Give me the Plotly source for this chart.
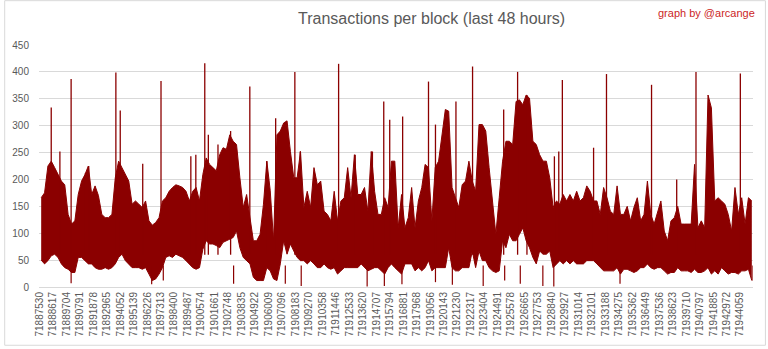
import plotly.graph_objects as go

# ---------------- data ----------------
first_block = 71887530
n_blocks = 57600

tick_text = ["71887530","71888617","71889704","71890791","71891878","71892965",
             "71894052","71895139","71896226","71897313","71898400","71899487",
             "71900574","71901661","71902748","71903835","71904922","71906009",
             "71907096","71908183","71909270","71910358","71911446","71912533",
             "71913620","71914707","71915794","71916881","71917968","71919056",
             "71920143","71921230","71922317","71923404","71924491","71925578",
             "71926665","71927753","71928840","71929927","71931014","71932101",
             "71933188","71934275","71935362","71936449","71937536","71938623",
             "71939710","71940797","71941885","71942972","71944059"]

# per-bin upper / lower envelope of transactions per block
hi = [166,175,225,234,222,209,197,190,135,117,
      123,172,197,209,225,172,188,170,135,129,
      129,135,203,234,222,209,197,154,160,154,
      148,160,123,115,120,129,160,166,178,185,
      190,188,185,178,160,178,185,160,209,240,
      228,222,216,246,259,256,283,271,265,203,
      148,172,129,86,86,98,154,234,180,86,
      283,290,305,309,252,203,203,252,148,178,
      148,222,190,197,141,135,123,178,123,160,
      166,222,166,246,172,172,185,141,252,178,
      135,135,166,148,234,234,110,172,110,129,
      185,110,160,185,228,222,123,222,234,283,
      330,327,185,166,148,190,197,234,197,178,
      302,302,290,222,160,98,166,234,271,271,
      265,345,348,339,357,351,271,265,246,234,
      234,203,148,160,154,172,160,172,160,178,
      160,166,188,178,160,160,135,185,166,141,
      135,188,135,135,150,123,148,166,123,135,
      197,135,117,141,160,104,86,123,129,150,
      117,117,117,117,228,110,123,110,357,333,
      160,166,160,154,135,104,185,135,166,117,
      166,160]

lo = [50,43,49,58,61,55,43,36,33,27,
      27,55,55,49,43,43,36,33,33,36,
      33,36,43,55,61,49,43,36,36,36,
      33,36,24,12,15,24,36,55,58,55,
      61,58,55,49,43,36,33,36,70,86,
      80,80,77,73,83,86,89,92,104,73,
      55,49,43,18,12,12,12,36,30,15,
      12,43,86,61,80,67,55,49,49,43,
      49,43,36,36,43,36,33,36,24,30,
      36,36,36,36,36,43,36,30,33,36,
      36,30,24,36,43,36,30,24,43,43,
      43,30,36,30,36,49,30,36,36,36,
      36,73,36,30,30,36,36,36,67,36,
      67,49,49,36,30,27,30,86,73,98,
      86,86,98,110,86,73,55,43,67,61,
      61,67,36,43,49,43,49,43,49,43,
      43,43,49,49,49,43,36,30,30,30,
      30,36,24,33,33,30,27,30,36,36,
      43,36,33,36,36,30,24,27,27,36,
      30,30,30,27,33,27,27,30,36,24,
      30,24,36,30,24,27,27,24,30,30,
      33,12]

# isolated high blocks (spikes)
spike_blocks = [71888477,71889175,71890081,71891236,71891501,71893691,71894044,
                71895857,71897333,71899739,71900141,71900863,71901151,71901929,
                71902948,71904497,71905860,71906582,71908130,71908564,71911660,
                71913000,71914388,71915302,71915783,71916826,71918912,71919474,
                71921126,71922466,71924977,71926100,71926854,71929068,71929421,
                71929710,71932229,71933271,71936905,71938935,71940491,71944069]
spike_vals = [334,252,387,212,225,399,328,
              229,383,243,246,416,283,265,
              290,373,234,314,400,252,415,
              246,252,345,311,317,382,302,
              345,410,330,400,357,243,252,
              385,259,396,376,200,400,397]

# isolated low blocks (dips)
dip_blocks = [71890081,71896579,71897517,71903189,71907360,71908644,71913962,
              71915350,71916770,71919474,71920837,71923324,71925057,71926316,
              71928137,71929020,71934362,71945088]
dip_vals = [7,5,12,6,6,2,1,
            2,5,9,4,2,12,6,
            2,1,6,12]

# ---------------- drawing ----------------
dark = "#8B0000"
bin_w = n_blocks / len(hi)
bin_x = [first_block + (k + 0.5) * bin_w for k in range(len(hi))]
tick_vals = [int(t) for t in tick_text]

fig = go.Figure()
fig.add_trace(go.Scatter(x=bin_x, y=lo, mode="lines",
                         line=dict(color=dark, width=1), hoverinfo="skip"))
fig.add_trace(go.Scatter(x=bin_x, y=hi, mode="lines", fill="tonexty",
                         fillcolor=dark, line=dict(color=dark, width=1),
                         hoverinfo="skip"))

sx, sy = [], []
for b, v in zip(spike_blocks, spike_vals):
    sx += [b, b, None]
    sy += [60, v, None]
fig.add_trace(go.Scatter(x=sx, y=sy, mode="lines",
                         line=dict(color=dark, width=1.3), hoverinfo="skip"))
dx, dy = [], []
for b, v in zip(dip_blocks, dip_vals):
    dx += [b, b, None]
    dy += [40, v, None]
fig.add_trace(go.Scatter(x=dx, y=dy, mode="lines",
                         line=dict(color=dark, width=1.2), hoverinfo="skip"))

L, R, T, B = 35, 15, 45, 61
W, H = 768, 349
pw, ph = W - L - R, H - T - B

def px_x(p):
    return (p - L) / pw

def px_y(p):
    return (H - B - p) / ph

fig.update_layout(
    width=W, height=H,
    margin=dict(l=L, r=R, t=T, b=B),
    paper_bgcolor="white", plot_bgcolor="white",
    showlegend=False,
    font=dict(family="Liberation Sans, Arial, sans-serif", color="#595959"),
    xaxis=dict(range=[first_block - 40, first_block + n_blocks - 40],
               tickvals=tick_vals, ticktext=tick_text, tickangle=-90,
               tickfont=dict(size=10, color="#595959"),
               showgrid=False, zeroline=False, showline=True,
               linecolor="#d9d9d9", linewidth=1, ticks=""),
    yaxis=dict(range=[0, 450], dtick=50, tick0=0,
               tickfont=dict(size=10, color="#595959"),
               showgrid=True, gridcolor="#d9d9d9", gridwidth=1,
               zeroline=False, showline=False, ticks="",
               ticklabelstandoff=9),
    annotations=[
        dict(text="Transactions per block (last 48 hours)",
             x=px_x(430), y=px_y(18), xref="paper", yref="paper",
             xanchor="center", yanchor="middle", showarrow=False,
             font=dict(size=16, color="#595959")),
        dict(text="graph by @arcange",
             x=px_x(757), y=px_y(13), xref="paper", yref="paper",
             xanchor="right", yanchor="middle", showarrow=False,
             font=dict(size=11, color="#cc1f1f")),
    ],
    shapes=[dict(type="rect", xref="paper", yref="paper",
                 x0=px_x(0.5), x1=px_x(765.5), y0=px_y(346.5), y1=px_y(0.5),
                 line=dict(color="#d9d9d9", width=1), layer="below")],
)

fig.write_html("out.html")
